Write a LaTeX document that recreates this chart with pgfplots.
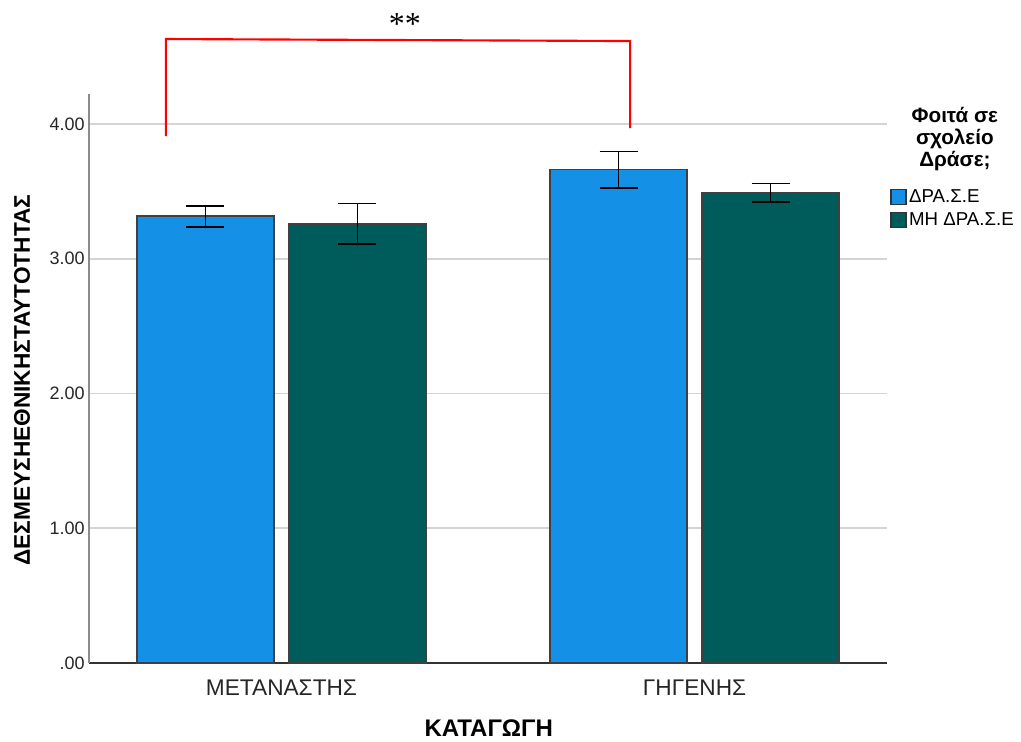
\documentclass[border=0pt]{standalone}
\usepackage{fontspec}
\setmainfont{Liberation Sans}
\newfontfamily\seriffont{Liberation Serif}
\usepackage{pgfplots}
\usepackage{pgfplotstable}
\pgfplotsset{compat=1.18}
\definecolor{spssblue}{RGB}{20,144,230}
\definecolor{spssteal}{RGB}{0,92,90}

% x = group position (0 = METANASTHS, 1 = GHGENHS) with the bar offset within the group
\pgfplotstableread{
x y ep em
-0.184 3.317 0.075 0.079
0.816 3.664 0.133 0.137
}\dataA
\pgfplotstableread{
x y ep em
0.184 3.258 0.153 0.148
1.184 3.493 0.067 0.072
}\dataB

\begin{document}
\begin{tikzpicture}
\begin{axis}[
  name=ax,
  scale only axis,
  width=598.5pt, height=426.75pt,
  xmin=-0.466, xmax=1.466,
  ymin=0, ymax=4.223,
  clip=false,
  axis x line*=bottom, axis y line*=left,
  x axis line style={draw=black!80, line width=1pt, -},
  y axis line style={draw=black!45, line width=1pt, -},
  xtick={0,1}, xticklabels={ΜΕΤΑΝΑΣΤΗΣ,ΓΗΓΕΝΗΣ},
  ytick={0,1,2,3,4}, yticklabels={.00,1.00,2.00,3.00,4.00},
  major tick length=0pt,
  ymajorgrids, grid style={draw=black!17, line width=1.2pt},
  xticklabel style={font=\fontsize{17}{17}\selectfont, anchor=center, yshift=-18.75pt, text=black!85},
  yticklabel style={font=\fontsize{13.5}{13.5}\selectfont, inner sep=0pt, anchor=east, xshift=-3pt, text=black!85},
  xlabel={ΚΑΤΑΓΩΓΗ},
  xlabel style={font=\bfseries\fontsize{18}{18}\selectfont, at={(axis description cs:0.501,-0.114)}, anchor=center},
  ylabel={ΔΕΣΜΕΥΣΗΕΘΝΙΚΗΣΤΑΥΤΟΤΗΤΑΣ},
  ylabel style={font=\bfseries\fontsize{17}{17}\selectfont, at={(axis description cs:-0.084,0.497)}, anchor=center},
  legend style={at={(axis description cs:1.004,0.835)}, anchor=north west, draw=none, fill=none,
    font=\fontsize{14}{14}\selectfont, inner sep=0pt, row sep=4pt, column sep=1pt,
    nodes={inner sep=1pt}},
  legend cell align=left,
  legend image code/.code={\draw[#1, draw=black!80, line width=0.8pt] (0pt,-5.6pt) rectangle (11.25pt,5.6pt);},
]
\addplot[ybar, bar width=0.332, bar shift=0, fill=spssblue, draw=black!75, line width=0.9pt,
  error bars/.cd, y dir=both, y explicit,
  error bar style={draw=black, line width=1.2pt},
  error mark options={rotate=90, mark size=14.25pt, line width=1.2pt, draw=black}]
  table[x=x, y=y, y error plus=ep, y error minus=em]{\dataA};
\addlegendentry{ΔΡΑ.Σ.Ε}
\addplot[ybar, bar width=0.332, bar shift=0, fill=spssteal, draw=black!75, line width=0.9pt,
  error bars/.cd, y dir=both, y explicit,
  error bar style={draw=black, line width=1.2pt},
  error mark options={rotate=90, mark size=14.25pt, line width=1.2pt, draw=black}]
  table[x=x, y=y, y error plus=ep, y error minus=em]{\dataB};
\addlegendentry{ΜΗ ΔΡΑ.Σ.Ε}

\draw[red, line width=1.6pt] (axis cs:-0.28,3.91) -- (axis cs:-0.28,4.631) -- (axis cs:0.844,4.616) -- (axis cs:0.844,3.97);
\node[font=\seriffont\fontsize{24}{24}\selectfont, anchor=center] at (axis cs:0.299,4.74) {**};
\node[font=\bfseries\fontsize{15.5}{16.5}\selectfont, align=center, anchor=north, inner sep=0pt] at (axis description cs:1.085,0.977) {Φοιτά σε\\σχολείο\\Δράσε;};
\end{axis}
\pgfresetboundingbox
\path ([xshift=-66.75pt, yshift=-59.25pt]ax.south west) rectangle ([xshift=100.5pt, yshift=70.5pt]ax.north east);
\end{tikzpicture}
\end{document}
